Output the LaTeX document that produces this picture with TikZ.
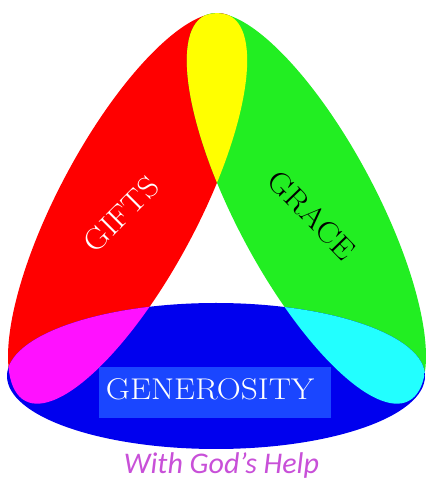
\documentclass[tikz,border=0pt]{standalone}
\usepackage{fontspec}
\newfontfamily\helpfont{Carlito}
\definecolor{giftred}{HTML}{FF0000}
\definecolor{gracegreen}{HTML}{22EE22}
\definecolor{genblue}{HTML}{0000EE}
\definecolor{mixyellow}{HTML}{FFFF00}
\definecolor{mixmagenta}{HTML}{FF11FF}
\definecolor{mixcyan}{HTML}{22FFFF}
\definecolor{boxblue}{HTML}{1A46FF}
\definecolor{helpviolet}{HTML}{C850D8}

\begin{document}
\begin{tikzpicture}[x=1pt, y=1pt,
  giftsell/.style={rotate around={62:(127.6,280.6)}},
  graceell/.style={rotate around={118:(306.4,280.6)}},
  word/.style={inner sep=0pt, font=\fontsize{30}{30}\selectfont},
  genbox/.style={fill=boxblue, minimum width=232pt, minimum height=51pt, inner sep=0pt},
  helptext/.style={text=helpviolet, inner sep=0pt, font=\helpfont\itshape\fontsize{30}{30}\selectfont}
]
\useasboundingbox (0,0) rectangle (426,489);
% the three ellipses
\fill[giftred, giftsell] (127.6,280.6) ellipse [x radius=218pt, y radius=70pt];
\fill[gracegreen, graceell] (306.4,280.6) ellipse [x radius=218pt, y radius=70pt];
\fill[genblue] (216,113) ellipse [x radius=209pt, y radius=73pt];
% overlaps
\begin{scope}
  \clip[giftsell] (127.6,280.6) ellipse [x radius=218pt, y radius=70pt];
  \fill[mixyellow, graceell] (306.4,280.6) ellipse [x radius=218pt, y radius=70pt];
  \fill[mixmagenta] (216,113) ellipse [x radius=209pt, y radius=73pt];
\end{scope}
\begin{scope}
  \clip[graceell] (306.4,280.6) ellipse [x radius=218pt, y radius=70pt];
  \fill[mixcyan] (216,113) ellipse [x radius=209pt, y radius=73pt];
\end{scope}
\node[genbox] (genback) at (215,96.5) {};
\node[word, text=white, rotate=45] (gifts) at (121,274.5) {\scalebox{1.1}[1]{GIFTS}};
\node[word, text=black, rotate=-46] (grace) at (312,274) {\scalebox{1.1}[1]{GRACE}};
\node[word, text=white] (gen) at (210,100) {\scalebox{1.11}[1]{GENEROSITY}};
\node[helptext, anchor=base] (help) at (221.5,16) {With God’s Help};
\end{tikzpicture}
\end{document}
